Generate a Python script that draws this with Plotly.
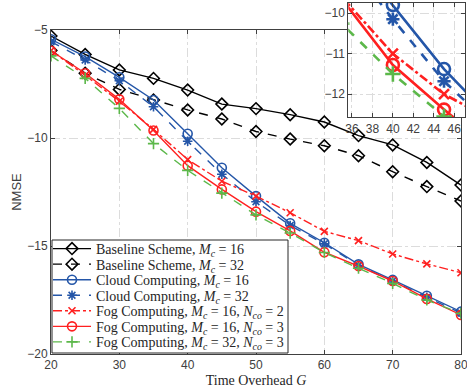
import plotly.graph_objects as go

# ---------------- data ----------------
overhead = [20, 25, 30, 35, 40, 45, 50, 55, 60, 65, 70, 75, 80]
baseline_16 = [-5.28, -6.13, -6.85, -7.24, -7.78, -8.43, -8.64, -8.92, -9.26, -9.89, -10.32, -11.13, -12.18]
baseline_32 = [-5.95, -7.00, -7.75, -8.24, -8.70, -9.12, -9.70, -10.05, -10.36, -10.82, -11.56, -12.25, -12.92]
cloud_16 = [-5.43, -6.23, -7.19, -8.24, -9.80, -11.38, -12.69, -13.95, -14.85, -15.85, -16.57, -17.30, -18.04]
cloud_32 = [-5.54, -6.39, -7.35, -8.55, -10.15, -11.68, -12.95, -14.05, -14.90, -15.90, -16.62, -17.38, -18.10]
fog_16_2 = [-5.96, -7.10, -8.30, -9.60, -11.00, -12.00, -12.69, -13.46, -14.32, -14.75, -15.37, -15.83, -16.24]
fog_16_3 = [-5.96, -7.00, -8.21, -9.65, -11.28, -12.38, -13.41, -14.30, -15.29, -15.93, -16.62, -17.45, -18.19]
fog_32_3 = [-6.20, -7.24, -8.63, -10.26, -11.50, -12.55, -13.56, -14.40, -15.30, -16.03, -16.73, -17.50, -18.12]

x_ticks = [20, 30, 40, 50, 60, 70, 80]
y_ticks = [-20, -15, -10, -5]
inset_x_ticks = [36, 38, 40, 42, 44, 46]
inset_y_ticks = [-12, -11, -10]

BLACK = "#000000"
BLUE = "#2456a8"
RED = "#ff2020"
GREEN = "#5cb84a"

series = [
    ("Baseline Scheme, <i>M</i><sub><i>c</i></sub> = 16", baseline_16, BLACK, "solid", "diamond-open", 9),
    ("Baseline Scheme, <i>M</i><sub><i>c</i></sub> = 32", baseline_32, BLACK, "dash", "diamond-open", 9),
    ("Cloud Computing, <i>M</i><sub><i>c</i></sub> = 16", cloud_16, BLUE, "solid", "circle-open", 9),
    ("Cloud Computing, <i>M</i><sub><i>c</i></sub> = 32", cloud_32, BLUE, "dash", "asterisk-open", 8),
    ("Fog Computing, <i>M</i><sub><i>c</i></sub> = 16, <i>N</i><sub><i>co</i></sub> = 2", fog_16_2, RED, "dashdot", "x-thin-open", 7),
    ("Fog Computing, <i>M</i><sub><i>c</i></sub> = 16, <i>N</i><sub><i>co</i></sub> = 3", fog_16_3, RED, "solid", "circle-open", 9),
    ("Fog Computing, <i>M</i><sub><i>c</i></sub> = 32, <i>N</i><sub><i>co</i></sub> = 3", fog_32_3, GREEN, "dash", "cross-thin-open", 8),
]

# layout geometry (pixels)
W, H = 467, 392
ML, MR, MT, MB = 51, 1, 3, 38
PW, PH = W - ML - MR, H - MT - MB          # paper plotting region
PLOT_RIGHT, PLOT_TOP = 461, 30


def px_x(p):
    return (p - ML) / PW


def px_y(p):
    return (H - MB - p) / PH


fig = go.Figure()
legend_names = ["legend"] + ["legend%d" % i for i in range(2, len(series) + 1)]
for (name, vals, col, dash, sym, msz), lg in zip(series, legend_names):
    fig.add_trace(go.Scatter(
        x=overhead, y=vals, name=name, mode="lines+markers", legend=lg,
        line=dict(color=col, width=1.4, dash=dash),
        marker=dict(symbol=sym, size=msz, color=col, line=dict(color=col, width=1.6)),
        xaxis="x", yaxis="y",
    ))
# inset (zoomed) copies
for name, vals, col, dash, sym, msz in series:
    fig.add_trace(go.Scatter(
        x=overhead, y=vals, name=name, mode="lines+markers", showlegend=False,
        line=dict(color=col, width=2.6, dash=dash),
        marker=dict(symbol=sym, size=msz + 3, color=col, line=dict(color=col, width=2.6)),
        xaxis="x2", yaxis="y2", cliponaxis=True,
    ))

tick_font = dict(family="Liberation Sans, Arial, sans-serif", size=12, color="#404040")
axis_common = dict(
    showline=True, linecolor="#404040", linewidth=1, mirror="ticks",
    ticks="inside", ticklen=4, tickcolor="#404040",
    showgrid=True, gridcolor="#dcdcdc", griddash="dashdot", gridwidth=1,
    zeroline=False, tickfont=tick_font, automargin=False, ticklabeloverflow="allow",
)

layout = dict(
    width=W, height=H,
    margin=dict(l=ML, r=MR, t=MT, b=MB),
    paper_bgcolor="white", plot_bgcolor="white",
    xaxis=dict(domain=[0, px_x(PLOT_RIGHT)], range=[20, 80], tickvals=x_ticks, anchor="y",
               title=dict(text="Time Overhead <i>G</i>", standoff=3,
                          font=dict(family="Liberation Serif, serif", size=14, color="#262626")),
               **axis_common),
    yaxis=dict(domain=[0, px_y(PLOT_TOP)], range=[-20, -5], tickvals=y_ticks, anchor="x",
               title=dict(text="NMSE", standoff=2,
                          font=dict(family="Liberation Sans, Arial, sans-serif", size=13, color="#404040")),
               **axis_common),
    xaxis2=dict(domain=[px_x(348.3), px_x(465)], range=[35.64, 47.05],
                tickvals=inset_x_ticks, anchor="y2", **axis_common),
    yaxis2=dict(domain=[px_y(117.3), 1.0], range=[-12.57, -9.75],
                tickvals=inset_y_ticks, anchor="x2", **axis_common),
    showlegend=True,
    shapes=[dict(type="rect", xref="paper", yref="paper", layer="above",
                 x0=px_x(52), x1=px_x(288), y0=px_y(353), y1=px_y(240),
                 fillcolor="white", line=dict(color="#262626", width=1))],
)

# one legend per entry, stacked tightly inside the framed box
first_center, step = 249.0, 15.55
for i, lg in enumerate(legend_names):
    layout[lg] = dict(
        x=px_x(48), y=px_y(first_center + step * i), xanchor="left", yanchor="middle",
        bgcolor="rgba(0,0,0,0)", borderwidth=0,
        font=dict(family="Liberation Serif, serif", size=14, color="#262626"),
        itemwidth=38,
    )

fig.update_layout(**layout)

fig.write_html("out.html", config={"displayModeBar": False},
               post_script="document.body.style.margin='0px';document.body.style.overflow='hidden';")
